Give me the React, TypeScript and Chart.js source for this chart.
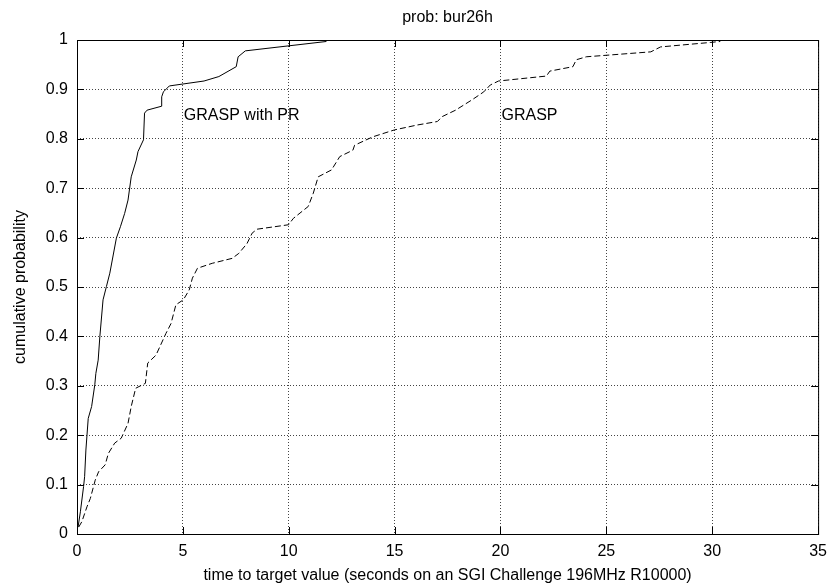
import React, { useEffect, useRef } from "react";
import { Chart, registerables } from "chart.js";

Chart.register(...registerables);

// GRASP with path-relinking (solid)
const prTime = [0.05, 0.16, 0.31, 0.36, 0.42, 0.53, 0.69, 0.84, 0.89, 1.0, 1.08, 1.23, 1.39, 1.55, 1.86, 2.05, 2.25, 2.41, 2.56, 2.8, 2.88, 3.14, 3.19, 3.31, 4.0, 4.0, 4.08, 4.36, 6.0, 6.7, 7.52, 7.61, 7.95, 11.78];
const prProb = [0.014, 0.045, 0.096, 0.116, 0.17, 0.234, 0.258, 0.302, 0.325, 0.352, 0.4, 0.474, 0.501, 0.528, 0.599, 0.622, 0.649, 0.676, 0.723, 0.757, 0.774, 0.798, 0.852, 0.858, 0.866, 0.885, 0.895, 0.907, 0.917, 0.926, 0.946, 0.966, 0.978, 0.997];

// plain GRASP (dashed)
const graspTime = [0.08, 0.23, 0.47, 0.63, 0.86, 1.02, 1.33, 1.48, 1.78, 2.09, 2.41, 2.56, 2.77, 3.23, 3.34, 3.73, 4.2, 4.44, 4.67, 5.02, 5.3, 5.45, 5.69, 6.39, 7.33, 7.64, 8.03, 8.27, 8.5, 9.99, 10.22, 10.92, 11.16, 11.39, 12.02, 12.41, 13.03, 13.11, 13.97, 14.99, 16.08, 17.02, 17.25, 17.88, 18.66, 19.21, 19.52, 19.91, 22.17, 22.33, 23.42, 23.58, 24.05, 27.1, 27.56, 29.9, 30.38];
const graspProb = [0.014, 0.025, 0.055, 0.072, 0.109, 0.126, 0.14, 0.163, 0.184, 0.194, 0.224, 0.258, 0.295, 0.305, 0.346, 0.362, 0.406, 0.426, 0.464, 0.474, 0.494, 0.518, 0.538, 0.548, 0.558, 0.568, 0.588, 0.609, 0.617, 0.626, 0.639, 0.663, 0.69, 0.723, 0.737, 0.764, 0.777, 0.787, 0.804, 0.818, 0.828, 0.835, 0.845, 0.858, 0.879, 0.895, 0.909, 0.917, 0.927, 0.937, 0.946, 0.96, 0.966, 0.976, 0.986, 0.995, 0.997];

const xRange = [0, 35];
const xStep = 5;
const yRange = [0, 1];
const yStep = 0.1;

const chartTitle = "prob: bur26h";
const xTitle = "time to target value (seconds on an SGI Challenge 196MHz R10000)";
const yTitle = "cumulative probability";

const labelTexts = ["GRASP with PR", "GRASP"];
const labelX = [5, 20];
const labelY = [0.838, 0.838];

const FONT = '"Liberation Sans", Arial, Helvetica, sans-serif';

export default function App() {
  const ref = useRef<HTMLCanvasElement>(null);

  useEffect(() => {
    if (!ref.current) return;
    Chart.defaults.font.family = FONT;
    Chart.defaults.font.size = 16;
    Chart.defaults.color = "#000";

    const framePlugin = {
      id: "frame",
      afterDatasetsDraw(chart: any) {
        const { ctx, chartArea: a, scales } = chart;
        const xs = scales.x;
        const ys = scales.y;
        ctx.save();
        ctx.strokeStyle = "#000";
        ctx.lineWidth = 1;
        ctx.setLineDash([]);
        ctx.strokeRect(a.left + 0.5, a.top + 0.5, a.right - a.left, a.bottom - a.top);
        const tl = 7;
        ctx.beginPath();
        xs.ticks.forEach((t: any) => {
          const px = Math.round(xs.getPixelForValue(t.value)) + 0.5;
          ctx.moveTo(px, a.bottom);
          ctx.lineTo(px, a.bottom - tl);
          ctx.moveTo(px, a.top);
          ctx.lineTo(px, a.top + tl);
        });
        ys.ticks.forEach((t: any) => {
          const py = Math.round(ys.getPixelForValue(t.value)) + 0.5;
          ctx.moveTo(a.left, py);
          ctx.lineTo(a.left + tl, py);
          ctx.moveTo(a.right, py);
          ctx.lineTo(a.right - tl, py);
        });
        ctx.stroke();

        ctx.fillStyle = "#000";
        ctx.font = "16px " + FONT;
        ctx.textBaseline = "alphabetic";
        ctx.textAlign = "center";
        ctx.fillText(chartTitle, (a.left + a.right) / 2, 22);

        ctx.textAlign = "left";
        labelTexts.forEach((txt, i) => {
          ctx.fillText(txt, xs.getPixelForValue(labelX[i]) + 1, ys.getPixelForValue(labelY[i]));
        });
        ctx.restore();
      },
    };

    const chart = new Chart(ref.current, {
      type: "scatter",
      data: {
        datasets: [
          {
            label: "GRASP with PR",
            data: prTime.map((t, i) => ({ x: t, y: prProb[i] })),
            showLine: true,
            borderColor: "#000",
            backgroundColor: "#000",
            borderWidth: 1,
            pointRadius: 0,
            tension: 0,
          },
          {
            label: "GRASP",
            data: graspTime.map((t, i) => ({ x: t, y: graspProb[i] })),
            showLine: true,
            borderColor: "#000",
            backgroundColor: "#000",
            borderWidth: 1,
            borderDash: [6, 3],
            pointRadius: 0,
            tension: 0,
          },
        ],
      },
      options: {
        animation: false,
        responsive: false,
        layout: { padding: { left: 0, top: 40, right: 13, bottom: 0 } },
        plugins: {
          legend: { display: false },
          tooltip: { enabled: false },
          title: { display: false },
        },
        scales: {
          x: {
            type: "linear",
            min: xRange[0],
            max: xRange[1],
            ticks: { stepSize: xStep, padding: 8, color: "#000", font: { size: 16 } },
            grid: { color: "#444", lineWidth: 1, drawTicks: false },
            border: { display: false, dash: [1, 2] },
            title: { display: true, text: xTitle, color: "#000", font: { size: 16 }, padding: { top: 0, bottom: 3 } },
            afterFit: (s: any) => {
              s.height = 54;
            },
          },
          y: {
            type: "linear",
            min: yRange[0],
            max: yRange[1],
            ticks: {
              stepSize: yStep,
              padding: 9,
              color: "#000",
              font: { size: 16 },
              callback: (v: any) => String(Math.round(Number(v) * 10) / 10),
            },
            grid: { color: "#444", lineWidth: 1, drawTicks: false },
            border: { display: false, dash: [1, 2] },
            title: { display: true, text: yTitle, color: "#000", font: { size: 16 }, padding: { top: 11, bottom: 0 } },
            afterFit: (s: any) => {
              s.width = 77;
            },
          },
        },
      },
      plugins: [framePlugin],
    });

    return () => chart.destroy();
  }, []);

  return (
    <div style={{ position: "absolute", left: 0, top: 0, width: 835, height: 588, background: "#fff" }}>
      <canvas ref={ref} width={835} height={588} style={{ display: "block" }} />
    </div>
  );
}
